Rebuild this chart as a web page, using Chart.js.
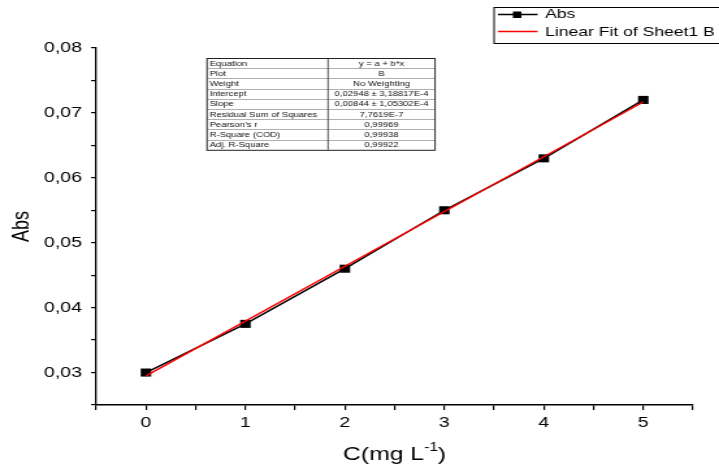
<!DOCTYPE html>
<html>
<head>
<meta charset="utf-8">
<script src="https://cdn.jsdelivr.net/npm/chart.js@4/dist/chart.umd.min.js"></script>
<style>
html,body{margin:0;padding:0;background:#fff;overflow:hidden;}
#outer{width:719px;height:468px;overflow:hidden;position:relative;}
#wrap{width:553px;height:468px;position:absolute;left:0;top:0;transform:scaleX(1.3002);transform-origin:0 0;}
#c{width:553px;height:468px;display:block;}
</style>
</head>
<body>
<div id="outer"><div id="wrap"><canvas id="c" width="553" height="468"></canvas></div></div>
<script>
// ---- data ----
const concentrations = [0, 1, 2, 3, 4, 5];
const absValues = [0.030, 0.0375, 0.046, 0.055, 0.063, 0.072];
const fitX = [0, 5];
const fitY = [0.02948, 0.07168];
const seriesNames = ['Abs', 'Linear Fit of Sheet1 B'];
const xTitle = 'C(mg L';
const xTitleSup = '-1';
const yTitle = 'Abs';
const tableLabels = ['Equation','Plot','Weight','Intercept','Slope','Residual Sum of Squares',"Pearson's r",'R-Square (COD)','Adj. R-Square'];
const tableValues = ['y = a + b*x','B','No Weighting','0,02948 \u00B1 3,18817E-4','0,00844 \u00B1 1,05302E-4','7,7619E-7','0,99969','0,99938','0,99922'];

const FONT = 'Arial, "Liberation Sans", sans-serif';

const decorPlugin = {
  id: 'decor',
  afterDraw(chart) {
    const ctx = chart.ctx;
    const ca = chart.chartArea;
    ctx.save();
    // Y title
    ctx.fillStyle = '#000';
    ctx.font = '18px ' + FONT;
    ctx.textAlign = 'center';
    ctx.textBaseline = 'middle';
    ctx.translate(17.5, (ca.top + ca.bottom) / 2);
    ctx.rotate(-Math.PI / 2);
    ctx.fillText(yTitle, 0, 0);
    ctx.restore();

    // X title with superscript
    ctx.save();
    ctx.fillStyle = '#000';
    ctx.textBaseline = 'alphabetic';
    ctx.font = '19px ' + FONT;
    const w1 = ctx.measureText(xTitle).width;
    ctx.font = '12px ' + FONT;
    const w2 = ctx.measureText(xTitleSup).width;
    ctx.font = '19px ' + FONT;
    const w3 = ctx.measureText(')').width;
    const total = w1 + w2 + w3;
    const x0 = (ca.left + ca.right) / 2 - total / 2;
    const base = 460;
    ctx.textAlign = 'left';
    ctx.fillText(xTitle, x0, base);
    ctx.font = '12px ' + FONT;
    ctx.fillText(xTitleSup, x0 + w1, base - 9);
    ctx.font = '19px ' + FONT;
    ctx.fillText(')', x0 + w1 + w2, base);
    ctx.restore();

    // Stats table
    ctx.save();
    const tl = 159.2, tt = 58, tr = 334.6, rowH = 10.2, colX = 252.3;
    const tb = tt + rowH * tableLabels.length;
    ctx.fillStyle = '#fff';
    ctx.fillRect(tl, tt, tr - tl, tb - tt);
    ctx.strokeStyle = '#b0b0b0';
    ctx.lineWidth = 1;
    for (let i = 1; i < tableLabels.length; i++) {
      const y = Math.round(tt + rowH * i) + 0.5;
      ctx.beginPath(); ctx.moveTo(tl, y); ctx.lineTo(tr, y); ctx.stroke();
    }
    ctx.strokeStyle = '#555';
    ctx.beginPath(); ctx.moveTo(colX, tt); ctx.lineTo(colX, tb); ctx.stroke();
    ctx.strokeStyle = '#222';
    ctx.strokeRect(tl, tt + 0.5, tr - tl, tb - tt);
    ctx.fillStyle = '#111';
    ctx.font = '7.3px ' + FONT;
    ctx.textBaseline = 'middle';
    for (let i = 0; i < tableLabels.length; i++) {
      const cy = tt + rowH * i + rowH / 2 + 0.5;
      ctx.textAlign = 'left';
      ctx.fillText(tableLabels[i], tl + 2, cy);
      ctx.textAlign = 'center';
      ctx.fillText(tableValues[i], (colX + tr) / 2, cy);
    }
    ctx.restore();

    // Legend
    ctx.save();
    const ll = 380, lt = 7, lb = 43, lr = 570;
    ctx.strokeStyle = '#000';
    ctx.lineWidth = 1;
    ctx.strokeRect(ll, lt + 0.5, lr - ll, lb - lt);
    ctx.lineWidth = 1.5;
    ctx.strokeStyle = '#000';
    ctx.beginPath(); ctx.moveTo(383, 14.5); ctx.lineTo(413.5, 14.5); ctx.stroke();
    ctx.fillStyle = '#000';
    ctx.fillRect(394.5, 11.5, 6.5, 6.5);
    ctx.strokeStyle = '#ff0000';
    ctx.beginPath(); ctx.moveTo(383, 31.5); ctx.lineTo(413.5, 31.5); ctx.stroke();
    ctx.fillStyle = '#000';
    ctx.font = '13.5px ' + FONT;
    ctx.textAlign = 'left';
    ctx.textBaseline = 'middle';
    ctx.fillText(seriesNames[0], 419.2, 14.5);
    ctx.fillText(seriesNames[1], 419.2, 32);
    ctx.restore();
  }
};

const absData = concentrations.map((x, i) => ({x: x, y: absValues[i]}));
const fitData = fitX.map((x, i) => ({x: x, y: fitY[i]}));

const tickFmt = (v) => {
  const k = Math.round(v * 1000);
  if (k % 10 !== 0) return '';
  return (k / 1000).toFixed(2).replace('.', ',');
};
const xFmt = (v) => {
  const k = Math.round(v * 10);
  if (k % 10 !== 0) return '';
  return String(k / 10);
};

new Chart(document.getElementById('c'), {
  type: 'scatter',
  data: {
    datasets: [
      {
        label: seriesNames[1],
        data: fitData,
        showLine: true,
        borderColor: '#ff0000',
        borderWidth: 1.5,
        pointRadius: 0,
        order: 0
      },
      {
        label: seriesNames[0],
        data: absData,
        showLine: true,
        borderColor: '#000',
        borderWidth: 1.5,
        backgroundColor: '#000',
        pointStyle: 'rect',
        pointRadius: 5.7,
        pointBorderWidth: 0,
        order: 1
      }
    ]
  },
  options: {
    responsive: false,
    animation: false,
    devicePixelRatio: 1,
    layout: { padding: { top: 48, right: 20, left: 0, bottom: 0 } },
    plugins: { legend: { display: false }, tooltip: { enabled: false } },
    scales: {
      x: {
        type: 'linear',
        min: -0.5, max: 5.5,
        afterFit(s) { s.height = 63; },
        afterBuildTicks(s) {
          const t = [];
          for (let i = -1; i <= 11; i++) t.push({value: i / 2});
          s.ticks = t;
        },
        ticks: { callback: xFmt, color: '#000', font: { size: 15, family: FONT }, padding: 4, maxRotation: 0, autoSkip: false },
        grid: { drawOnChartArea: false, drawTicks: true, tickLength: 5, color: '#000', lineWidth: 1.2 },
        border: { display: true, color: '#000', width: 1.5 }
      },
      y: {
        type: 'linear',
        min: 0.025, max: 0.08,
        afterFit(s) { s.width = 74; },
        afterBuildTicks(s) {
          const t = [];
          for (let i = 5; i <= 16; i++) t.push({value: i * 0.005});
          s.ticks = t;
        },
        ticks: { callback: tickFmt, color: '#000', font: { size: 15, family: FONT }, padding: 7, autoSkip: false },
        grid: { drawOnChartArea: false, drawTicks: true, tickLength: 4, color: '#000', lineWidth: 1.2 },
        border: { display: true, color: '#000', width: 1.3 }
      }
    }
  },
  plugins: [decorPlugin]
});
</script>
</body>
</html>
